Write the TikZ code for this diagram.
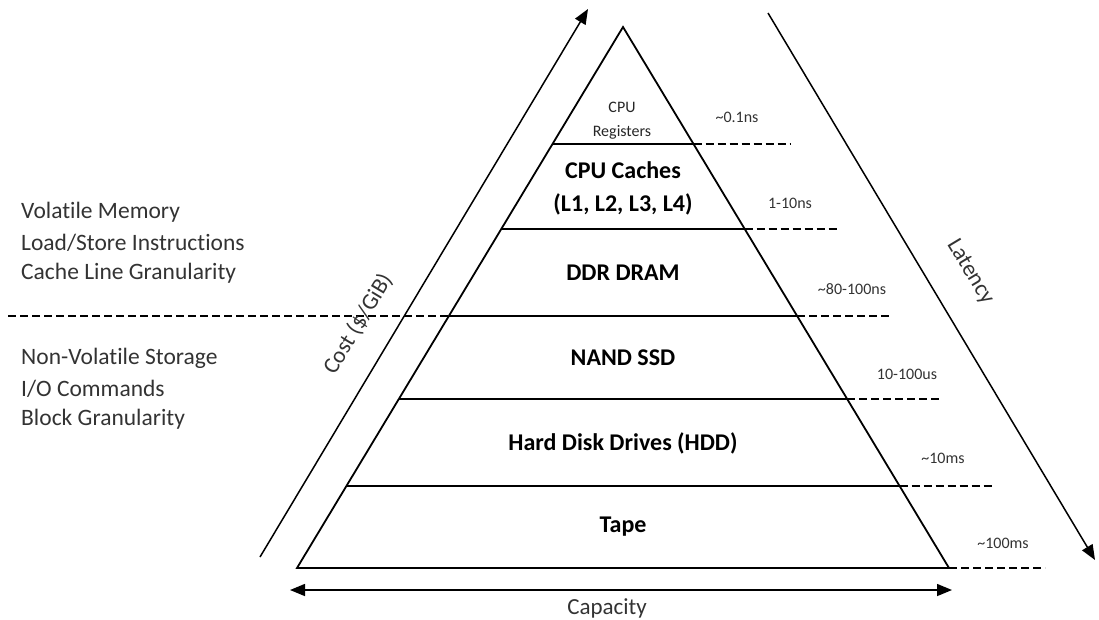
\documentclass[tikz,border=0pt]{standalone}
\usepackage{fontspec}
\setmainfont{Carlito}[Ligatures=NoCommon]
\usetikzlibrary{arrows.meta,calc}
\begin{document}
\begin{tikzpicture}[x=1pt,y=-1pt,
  edge/.style={line width=1.8pt},
  guide/.style={line width=1.8pt, dash pattern=on 8pt off 4pt},
  axis/.style={line width=1.5pt, -{Triangle[length=15pt,width=12pt]}},
  bothaxis/.style={line width=1.5pt, {Triangle[length=15pt,width=12pt]}-{Triangle[length=15pt,width=12pt]}},
  tier/.style={font=\fontsize{24}{28}\selectfont\bfseries, text=black, inner sep=0pt},
  small/.style={font=\fontsize{16}{19}\selectfont, text=black!85, inner sep=0pt},
  lat/.style={font=\fontsize{16}{19}\selectfont, text=black!80, inner sep=0pt},
  side/.style={font=\fontsize{23.5}{27}\selectfont, text=black!80, inner sep=0pt, anchor=west},
  axlabel/.style={font=\fontsize{23}{27}\selectfont, text=black!80, inner sep=0pt}
]
\useasboundingbox (0,0) rectangle (1099,619);

% pyramid outline
\coordinate (apex) at (623,27);
\coordinate (bl) at (297,568);
\coordinate (br) at (949,568);
\draw[edge, line join=miter] (bl) -- (apex) -- (br) -- cycle;

% tier boundaries (left / right points on the sides)
\coordinate (l1) at (552.5,144); \coordinate (r1) at (693.5,144);
\coordinate (l2) at (501.3,229); \coordinate (r2) at (744.7,229);
\coordinate (l3) at (448.8,316); \coordinate (r3) at (797.2,316);
\coordinate (l4) at (398.8,399); \coordinate (r4) at (847.2,399);
\coordinate (l5) at (346.4,486); \coordinate (r5) at (899.6,486);
\foreach \i in {1,...,5} \draw[edge] (l\i) -- (r\i);

% latency guides
\coordinate (g1) at (790,144);
\coordinate (g2) at (840,229);
\coordinate (g3) at (890,316);
\coordinate (g4) at (942,399);
\coordinate (g5) at (994,486);
\coordinate (g6) at (1045,568);
\foreach \i in {1,...,5} \draw[guide] (r\i) -- (g\i);
\draw[guide] (br) -- (g6);

% memory / storage divide
\coordinate (d0) at (8,316);
\draw[guide] (d0) -- (l3);

% tier names
\node[small] (cpu) at (622,107) {CPU};
\node[small] (regs) at (622,132) {Registers};
\node[tier] (caches) at (623,170) {CPU Caches};
\node[tier] (levels) at (623,204) {(L1, L2, L3, L4)};
\node[tier] (dram) at (623,273) {DDR DRAM};
\node[tier] (nand) at (623,358) {NAND SSD};
\node[tier] (hdd) at (623,443) {Hard Disk Drives (HDD)};
\node[tier] (tape) at (623,527) {Tape};

% latency values
\node[lat] (t1) at (737,117) {\textasciitilde0.1ns};
\node[lat] (t2) at (790,203) {1-10ns};
\node[lat] (t3) at (852,289) {\textasciitilde80-100ns};
\node[lat] (t4) at (907,374) {10-100us};
\node[lat] (t5) at (943,458) {\textasciitilde10ms};
\node[lat] (t6) at (1003,543) {\textasciitilde100ms};

% side notes
\node[side] (v1) at (21,212) {Volatile Memory};
\node[side] (v2) at (21,243) {Load/Store Instructions};
\node[side] (v3) at (21,273) {Cache Line Granularity};
\node[side] (n1) at (21,358) {Non-Volatile Storage};
\node[side] (n2) at (21,389) {I/O Commands};
\node[side] (n3) at (21,419) {Block Granularity};

% axes
\coordinate (c0) at (260,557);
\coordinate (c1) at (588,9);
\draw[axis] (c0) -- (c1);
\node[axlabel, rotate=59] (cost) at (358,324) {Cost (\$/GiB)};

\coordinate (s0) at (768,13);
\coordinate (s1) at (1095,560);
\draw[axis] (s0) -- (s1);
\node[axlabel, rotate=-59] (latency) at (970,272) {Latency};

\coordinate (k0) at (290,590);
\coordinate (k1) at (952,590);
\draw[bothaxis] (k0) -- (k1);
\node[axlabel] (capacity) at (607,608) {Capacity};
\end{tikzpicture}
\end{document}
